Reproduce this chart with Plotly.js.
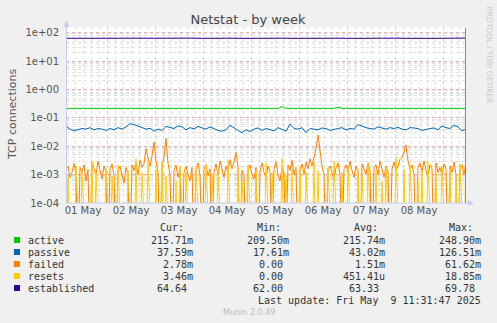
<!DOCTYPE html>
<html><head><meta charset="utf-8">
<script src="https://cdn.plot.ly/plotly-3.0.1.min.js"></script>
<style>html,body{margin:0;padding:0;background:#F0F0F0;}#chart{width:497px;height:323px;}</style>
</head><body><div id="chart"></div>
<script>
// ---- data ----
const chartTitle = "Netstat - by week";
const yTitle = "TCP connections";
const startUTC = [2025, 4, 1, 3, 30];   // 01 May 03:30
const endHours = 200;                    // window length in hours
const yTickVals = [1e-4, 1e-3, 1e-2, 1e-1, 1e0, 1e1, 1e2];
const yTickText = ["1e-04", "1e-03", "1e-02", "1e-01", "1e+00", "1e+01", "1e+02"];

// 2-hour samples
const active = [0.2157,0.2157,0.2157,0.2157,0.2157,0.2157,0.2157,0.2157,0.2157,0.2157,
0.2157,0.2157,0.2157,0.2157,0.2157,0.2157,0.2157,0.2157,0.2157,0.2157,
0.2157,0.2157,0.2157,0.2157,0.2157,0.2157,0.2157,0.2157,0.2157,0.2157,
0.2157,0.2157,0.2157,0.2157,0.2157,0.2157,0.2157,0.2157,0.2157,0.2157,
0.2157,0.2157,0.2157,0.2157,0.2157,0.2157,0.2157,0.2157,0.2157,0.2157,
0.2157,0.2157,0.2157,0.2157,0.2489,0.2157,0.2157,0.2157,0.2157,0.2157,
0.2157,0.2157,0.2157,0.2157,0.2157,0.2157,0.2157,0.2157,0.2380,0.2157,
0.2157,0.2157,0.2157,0.2157,0.2157,0.2157,0.2157,0.2157,0.2157,0.2157,
0.2157,0.2157,0.2157,0.2157,0.2157,0.2157,0.2157,0.2157,0.2157,0.2157,
0.2157,0.2157,0.2157,0.2157,0.2157,0.2157,0.2157,0.2157,0.2157,0.2157,0.2157];

const passive = [0.050,0.040,0.035,0.038,0.042,0.040,0.045,0.038,0.042,0.040,
0.036,0.042,0.038,0.045,0.040,0.048,0.062,0.058,0.052,0.045,
0.040,0.043,0.034,0.040,0.036,0.050,0.045,0.042,0.052,0.048,
0.038,0.045,0.041,0.050,0.044,0.040,0.048,0.042,0.036,0.034,
0.038,0.055,0.046,0.036,0.030,0.038,0.033,0.040,0.044,0.036,
0.042,0.038,0.035,0.045,0.040,0.034,0.060,0.042,0.040,0.045,
0.030,0.042,0.040,0.038,0.044,0.042,0.036,0.040,0.042,0.045,
0.038,0.042,0.040,0.058,0.050,0.045,0.042,0.040,0.048,0.044,
0.040,0.045,0.042,0.046,0.040,0.038,0.045,0.044,0.042,0.036,
0.040,0.042,0.044,0.038,0.052,0.045,0.042,0.055,0.048,0.035,0.040];

const established = [63.5,63.2,64.0,63.6,63.0,63.4,64.2,63.8,63.1,63.6,
64.4,63.9,63.2,63.5,64.1,63.7,63.0,63.3,63.9,64.3,
63.6,63.1,63.4,63.6,63.8,64.2,63.5,63.0,63.6,64.0,
63.2,63.7,64.3,63.4,62.8,63.3,63.9,63.5,63.0,63.6,
64.1,63.4,63.0,63.7,64.2,63.5,62.9,63.3,63.8,63.1,
63.6,64.0,63.2,62.8,63.4,63.9,63.3,63.0,63.6,64.1,
63.5,63.0,63.4,63.9,63.2,62.9,63.5,64.0,63.3,63.0,
63.6,64.2,63.7,63.1,63.4,63.9,63.3,63.0,63.5,64.0,
63.4,63.1,63.7,64.2,63.5,63.0,63.4,63.8,63.2,63.6,
64.1,63.5,63.0,63.4,63.9,64.3,63.6,63.2,63.8,64.4,64.6];

// 1-hour samples, in milli (x 1e-3)
const failedMilli = [1.5,2.0,0.8,1.2,2.5,1.0,0,1.8,1.2,2.2,
0.6,1.5,0,2.8,1.6,1.0,3.0,1.4,0.7,2.0,
1.2,0,1.6,2.4,0.9,0,1.3,2.0,1.1,0.5,
1.8,1.0,0,2.2,1.4,2.6,1.0,3.2,1.8,2.4,
8.0,3.5,2.0,4.5,14.0,3.0,1.2,0,2.0,4.0,
19.0,2.5,1.0,0,1.4,2.2,0.8,1.6,0,1.2,
2.0,1.0,0.6,1.8,0,1.4,2.6,1.0,0,1.5,
2.2,0.9,1.6,0,1.2,2.4,1.0,3.0,1.4,0.8,
2.0,1.2,3.4,1.6,2.8,6.0,2.0,0,1.4,1.0,
0,1.6,2.2,1.0,0.7,1.8,0,1.3,2.6,1.2,
0.8,2.0,1.2,0,1.6,2.8,1.0,0.6,1.8,1.2,
0,2.2,1.4,3.2,1.0,1.8,0,1.4,2.4,1.0,
2.8,1.6,3.6,2.0,4.0,8.0,25.0,6.0,2.0,1.0,
0,1.6,2.0,1.2,0.6,1.8,2.6,1.0,0,1.6,
2.2,1.2,3.0,1.4,0.8,2.0,1.2,0,2.4,1.6,
1.0,2.6,1.4,0,1.8,2.2,1.0,3.0,1.4,0.8,
2.0,1.2,0,1.6,2.8,1.4,2.0,3.4,4.0,6.0,
11.0,3.0,1.6,2.2,1.0,0,1.8,2.6,1.2,3.0,
1.4,0.8,2.2,1.6,0,2.6,1.2,1.8,0.9,2.4,
1.6,0,2.0,1.2,2.8,1.0,0,1.6,2.2,1.0,
2.8];

const resetsMilli = [0,1.0,0,0,0,2.0,0,0,1.4,0,0,0,0,3.0,0,1.2,0,0,0,0,
1.6,0,0,0.9,0,0,2.2,0,0,0,0,1.4,0,0,0,3.5,0,0,1.2,0,
0,2.6,0,0,0,1.6,0,0,3.0,0,0.9,0,0,0,0,0.6,0,2.0,0,0,
1.2,0,0,0,0,1.8,0,0,0,0,2.4,0,0,1.0,0,0,1.6,0,0,0,
0,3.2,0,0,0,0,1.8,0,0.6,0,0,2.2,0,0,0,1.4,0,0,0,0,
2.6,0,0,1.2,0,0,0,0,3.6,0,1.0,0,0,1.6,0,0,0,2.0,0,0,
1.2,0,0,0,2.8,0,1.4,0,0,0,0,1.8,0,0,3.0,0,0,0,1.2,0,
0,2.0,0,0,0,0,1.6,0,1.0,0,0,2.4,0,0,0,1.4,0,0,0.6,0,
1.8,0,0,0,0,4.0,0,0,0,1.6,0,0,2.2,0,0,0,0.6,0,1.4,0,
0,2.8,0,0,0,1.2,0,0,2.0,0,0,0,1.6,0,0,1.0,0,2.4,0,0,
4.5];

// legend table
const seriesNames = ["active", "passive", "failed", "resets", "established"];
const seriesColors = ["#00CC00", "#0066B3", "#FF8000", "#FFCC00", "#330099"];
const colHeaders = ["Cur:", "Min:", "Avg:", "Max:"];
const curVals = ["215.71m", "37.59m", "2.78m", "3.46m", "64.64"];
const minVals = ["209.50m", "17.61m", "0.00", "0.00", "62.00"];
const avgVals = ["215.74m", "43.02m", "1.51m", "451.41u", "63.33"];
const maxVals = ["248.90m", "126.51m", "61.62m", "18.85m", "69.78"];
const lastUpdate = "Last update: Fri May  9 11:31:47 2025";
const footer = "Munin 2.0.49";
const sideText = "RRDTOOL / TOBI OETIKER";

// ---- build ----
const t0 = Date.UTC.apply(null, startUTC);
const H = 3600e3;
const times = (arr, stepH) => arr.map((_, i) => t0 + i * stepH * H);
const FLOOR = 1e-6; // zero values on log scale drop to the bottom edge
const clip = v => (v === null ? null : (v > 0 ? v : FLOOR));

const W = 497, HGT = 323, L = 66, R = 466, T = 27, B = 203;
const px = x => (x - L) / (R - L);
const py = y => (B - y) / (B - T);

const mk = (x, y, color, name) => ({x, y, type: 'scatter', mode: 'lines', name,
  line: {color, width: 1, shape: 'linear'}, hoverinfo: 'skip', connectgaps: false});

const traces = [
  mk(times(active, 2), active, seriesColors[0], 'active'),
  mk(times(passive, 2), passive, seriesColors[1], 'passive'),
  mk(times(failedMilli, 1), failedMilli.map(v => clip(v * 1e-3)), seriesColors[2], 'failed'),
  mk(times(resetsMilli, 1), resetsMilli.map(v => clip(v * 1e-3)), seriesColors[3], 'resets'),
  mk(times(established, 2), established, seriesColors[4], 'established'),
];

const mono = "DejaVu Sans Mono";
const sans = "DejaVu Sans";
const ann = [];
const txt = (x, y, text, opts) => ann.push(Object.assign({xref: 'paper', yref: 'paper',
  x: px(x), y: py(y), text, showarrow: false, xanchor: 'left', yanchor: 'middle',
  font: {family: mono, size: 10, color: '#333'}}, opts || {}));

// column headers
[158, 255, 352, 447].forEach((x, i) => txt(x, 227.5, colHeaders[i]));
const rowsY = [240, 252, 264, 276, 288];
const colRight = [194.5, 290.5, 386.5, 482.5];
const cols = [curVals, minVals, avgVals, maxVals];
const shapes = [];
seriesNames.forEach((n, r) => {
  txt(26, rowsY[r], n);
  cols.forEach((c, k) => {
    const v = c[r];
    const s = /[0-9]$/.test(v) ? v + "\u00A0" : v;
    txt(colRight[k], rowsY[r], s, {xanchor: 'right'});
  });
  shapes.push({type: 'rect', xref: 'paper', yref: 'paper', x0: px(14), x1: px(20),
    y0: py(rowsY[r] + 3), y1: py(rowsY[r] - 3), fillcolor: seriesColors[r], line: {width: 0}});
});
txt(482.5, 300, lastUpdate, {xanchor: 'right'});
txt(249, 312.5, footer, {xanchor: 'center', font: {family: sans, size: 8, color: '#BBBBBB'}});
txt(12, 115, yTitle, {xanchor: 'center', textangle: -90, font: {family: sans, size: 11, color: '#555'}});
txt(488.5, 55, sideText, {xanchor: 'center', textangle: 90, font: {family: sans, size: 7.5, color: '#C8C8C8'}});

// axis lines with arrows, right frame line
const axisCol = '#C6CCF2';
shapes.push({type: 'line', xref: 'paper', yref: 'paper', x0: px(66.5), x1: px(66.5), y0: py(203), y1: py(24), line: {color: axisCol, width: 1}});
shapes.push({type: 'path', xref: 'paper', yref: 'paper', fillcolor: axisCol, line: {width: 0},
  path: `M ${px(63.5)} ${py(27)} L ${px(69.5)} ${py(27)} L ${px(66.5)} ${py(20)} Z`});
shapes.push({type: 'line', xref: 'paper', yref: 'paper', x0: px(66), x1: px(470), y0: py(203), y1: py(203), line: {color: axisCol, width: 1}});
shapes.push({type: 'path', xref: 'paper', yref: 'paper', fillcolor: axisCol, line: {width: 0},
  path: `M ${px(468)} ${py(200)} L ${px(468)} ${py(206)} L ${px(474)} ${py(203)} Z`});
shapes.push({type: 'line', xref: 'paper', yref: 'paper', x0: px(465.5), x1: px(465.5), y0: py(203), y1: py(28), line: {color: '#8A8A8A', width: 1}});

const layout = {
  width: W, height: HGT,
  margin: {l: L, r: W - R, t: T, b: HGT - B, pad: 0},
  paper_bgcolor: '#F0F0F0', plot_bgcolor: '#FFFFFF',
  showlegend: false,
  title: {text: chartTitle, x: 248 / W, xref: 'container', xanchor: 'center',
    y: 1 - 19 / HGT, yref: 'container', yanchor: 'middle',
    font: {family: sans, size: 13, color: '#444'}},
  xaxis: {type: 'date', range: [t0, t0 + endHours * H], tick0: Date.UTC(2025, 4, 1), dtick: 86400000,
    ticklabelmode: 'period', tickformat: '%d %b', ticks: '', showline: false, zeroline: false,
    showgrid: true, gridcolor: 'rgba(235,130,130,0.5)', griddash: 'dot', gridwidth: 1,
    tickfont: {family: sans, size: 10, color: '#555'},
    minor: {dtick: 4 * H, showgrid: true, gridcolor: 'rgba(0,0,0,0.11)', griddash: 'dot', gridwidth: 1, ticks: ''}},
  yaxis: {type: 'log', range: [-4, 2.2], tickmode: 'array', tickvals: yTickVals, ticktext: yTickText,
    ticks: '', showline: false, zeroline: false, ticklabelstandoff: 6,
    showgrid: true, gridcolor: 'rgba(235,130,130,0.5)', griddash: 'dot', gridwidth: 1,
    tickfont: {family: sans, size: 10, color: '#555'},
    minor: {tickmode: 'linear', dtick: 'D1', showgrid: true, gridcolor: 'rgba(0,0,0,0.11)', griddash: 'dot', gridwidth: 1, ticks: ''}},
  annotations: ann,
  shapes: shapes,
};

Plotly.newPlot('chart', traces, layout, {staticPlot: true, displayModeBar: false});
</script>
</body></html>
